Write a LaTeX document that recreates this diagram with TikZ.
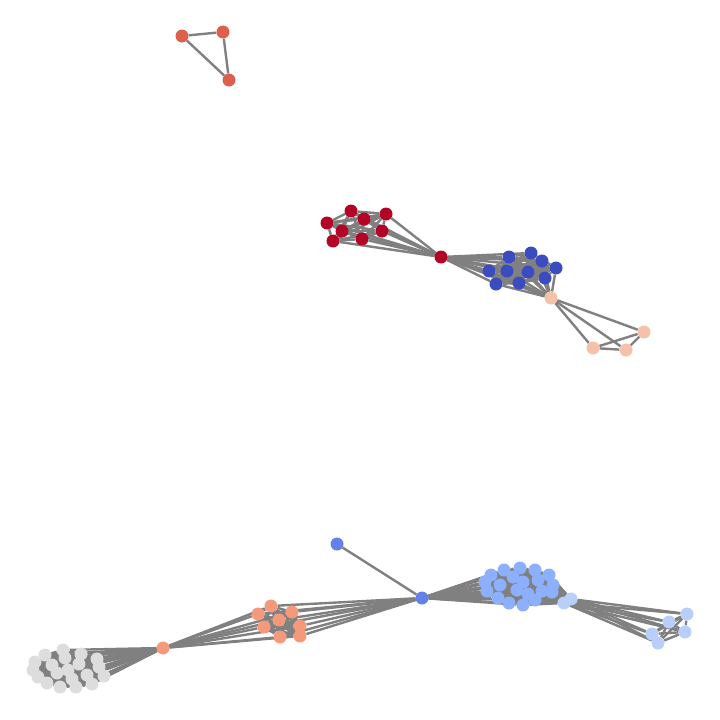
\documentclass[tikz,border=0pt]{standalone}
\usetikzlibrary{backgrounds}
\definecolor{tri}{RGB}{221,96,76}
\definecolor{deepred}{RGB}{180,4,38}
\definecolor{deepblue}{RGB}{59,76,192}
\definecolor{peach}{RGB}{245,193,168}
\definecolor{midblue}{RGB}{98,130,234}
\definecolor{skyblue}{RGB}{141,176,254}
\definecolor{paleblue}{RGB}{184,208,249}
\definecolor{salmon}{RGB}{244,154,123}
\definecolor{lightgrey}{RGB}{221,221,221}
\tikzset{
  vtx/.style={circle, fill=#1, draw=none, inner sep=0pt, minimum size=13pt},
  link/.style={draw=gray, line width=2.4pt}
}
\begin{document}
\begin{tikzpicture}[x=1pt, y=-1pt]
    \useasboundingbox (0,0) rectangle (720,720);

    % 1. The small triangle at the top
    \node[vtx=tri] (t1) at (182,36) {};
    \node[vtx=tri] (t2) at (223,32) {};
    \node[vtx=tri] (t3) at (229,80) {};

    % 2. Upper component: red group, hub, blue group, peach group
    \foreach \n/\x/\y in {1/327/223, 2/351/211, 3/364/219, 4/386/214,
                          5/342/231, 6/382/231, 7/333/241, 8/362/239}
        \node[vtx=deepred] (r\n) at (\x,\y) {};
    \node[vtx=deepred] (rh) at (441,257) {};
    \foreach \n/\x/\y in {1/509/257, 2/531/253, 3/542/261, 4/556/268, 5/489/271,
                          6/507/271, 7/528/272, 8/545/278, 9/496/284, 10/519/283}
        \node[vtx=deepblue] (b\n) at (\x,\y) {};
    \foreach \n/\x/\y in {1/551/298, 2/644/332, 3/593/348, 4/626/350}
        \node[vtx=peach] (p\n) at (\x,\y) {};

    % 3. Lower component
    \node[vtx=midblue] (m1) at (337,544) {};
    \node[vtx=midblue] (m2) at (422,598) {};
    \foreach \n/\x/\y in {1/491/575, 2/504/570, 3/520/568, 4/535/570, 5/549/575,
                          6/485/582, 7/500/585, 8/513/577, 9/523/582, 10/538/580,
                          11/553/585, 12/487/591, 13/498/598, 14/517/590, 15/528/594,
                          16/542/591, 17/552/592, 18/509/603, 19/523/605, 20/535/600}
        \node[vtx=skyblue] (l\n) at (\x,\y) {};
    \foreach \n/\x/\y in {1/564/603, 2/571/599, 3/687/614, 4/669/622,
                          5/685/632, 6/652/634, 7/658/643}
        \node[vtx=paleblue] (w\n) at (\x,\y) {};
    \foreach \n/\x/\y in {1/258/614, 2/271/606, 3/292/612, 4/279/620,
                          5/264/627, 6/300/626, 7/280/637, 8/300/636}
        \node[vtx=salmon] (s\n) at (\x,\y) {};
    \node[vtx=salmon] (sh) at (163,648) {};
    \foreach \n/\x/\y in {1/35/662, 2/45/655, 3/63/650, 4/81/654, 5/97/659,
                          6/33/670, 7/52/665, 8/65/658, 9/79/664, 10/99/667,
                          11/38/677, 12/57/673, 13/72/679, 14/87/675, 15/104/676,
                          16/47/683, 17/60/687, 18/76/687, 19/92/684, 20/68/670}
        \node[vtx=lightgrey] (g\n) at (\x,\y) {};

    % 4. All the links, behind the vertices
    \begin{scope}[on background layer]
        \draw[link] (t1) -- (t2) -- (t3) -- (t1);

        \foreach \i in {1,...,8} {
            \draw[link] (rh) -- (r\i);
            \foreach \j in {1,...,8} {\ifnum\i<\j \draw[link] (r\i) -- (r\j); \fi}
        }
        \foreach \i in {1,...,10} {
            \draw[link] (rh) -- (b\i);
            \draw[link] (p1) -- (b\i);
            \foreach \j in {1,...,10} {\ifnum\i<\j \draw[link] (b\i) -- (b\j); \fi}
        }
        \draw[link] (rh) -- (p1);
        \foreach \i in {1,...,4}
            \foreach \j in {1,...,4} {\ifnum\i<\j \draw[link] (p\i) -- (p\j); \fi}

        \draw[link] (m1) -- (m2);
        \foreach \i in {1,...,20} {
            \draw[link] (m2) -- (l\i);
            \draw[link] (w1) -- (l\i);
            \draw[link] (w2) -- (l\i);
            \draw[link] (sh) -- (g\i);
            \foreach \j in {1,...,20} {\ifnum\i<\j
                \draw[link] (l\i) -- (l\j);
                \draw[link] (g\i) -- (g\j);
            \fi}
        }
        \foreach \i in {1,...,7}
            \foreach \j in {1,...,7} {\ifnum\i<\j \draw[link] (w\i) -- (w\j); \fi}
        \foreach \i in {1,...,8} {
            \draw[link] (m2) -- (s\i);
            \draw[link] (sh) -- (s\i);
            \foreach \j in {1,...,8} {\ifnum\i<\j \draw[link] (s\i) -- (s\j); \fi}
        }
    \end{scope}

\end{tikzpicture}
\end{document}
